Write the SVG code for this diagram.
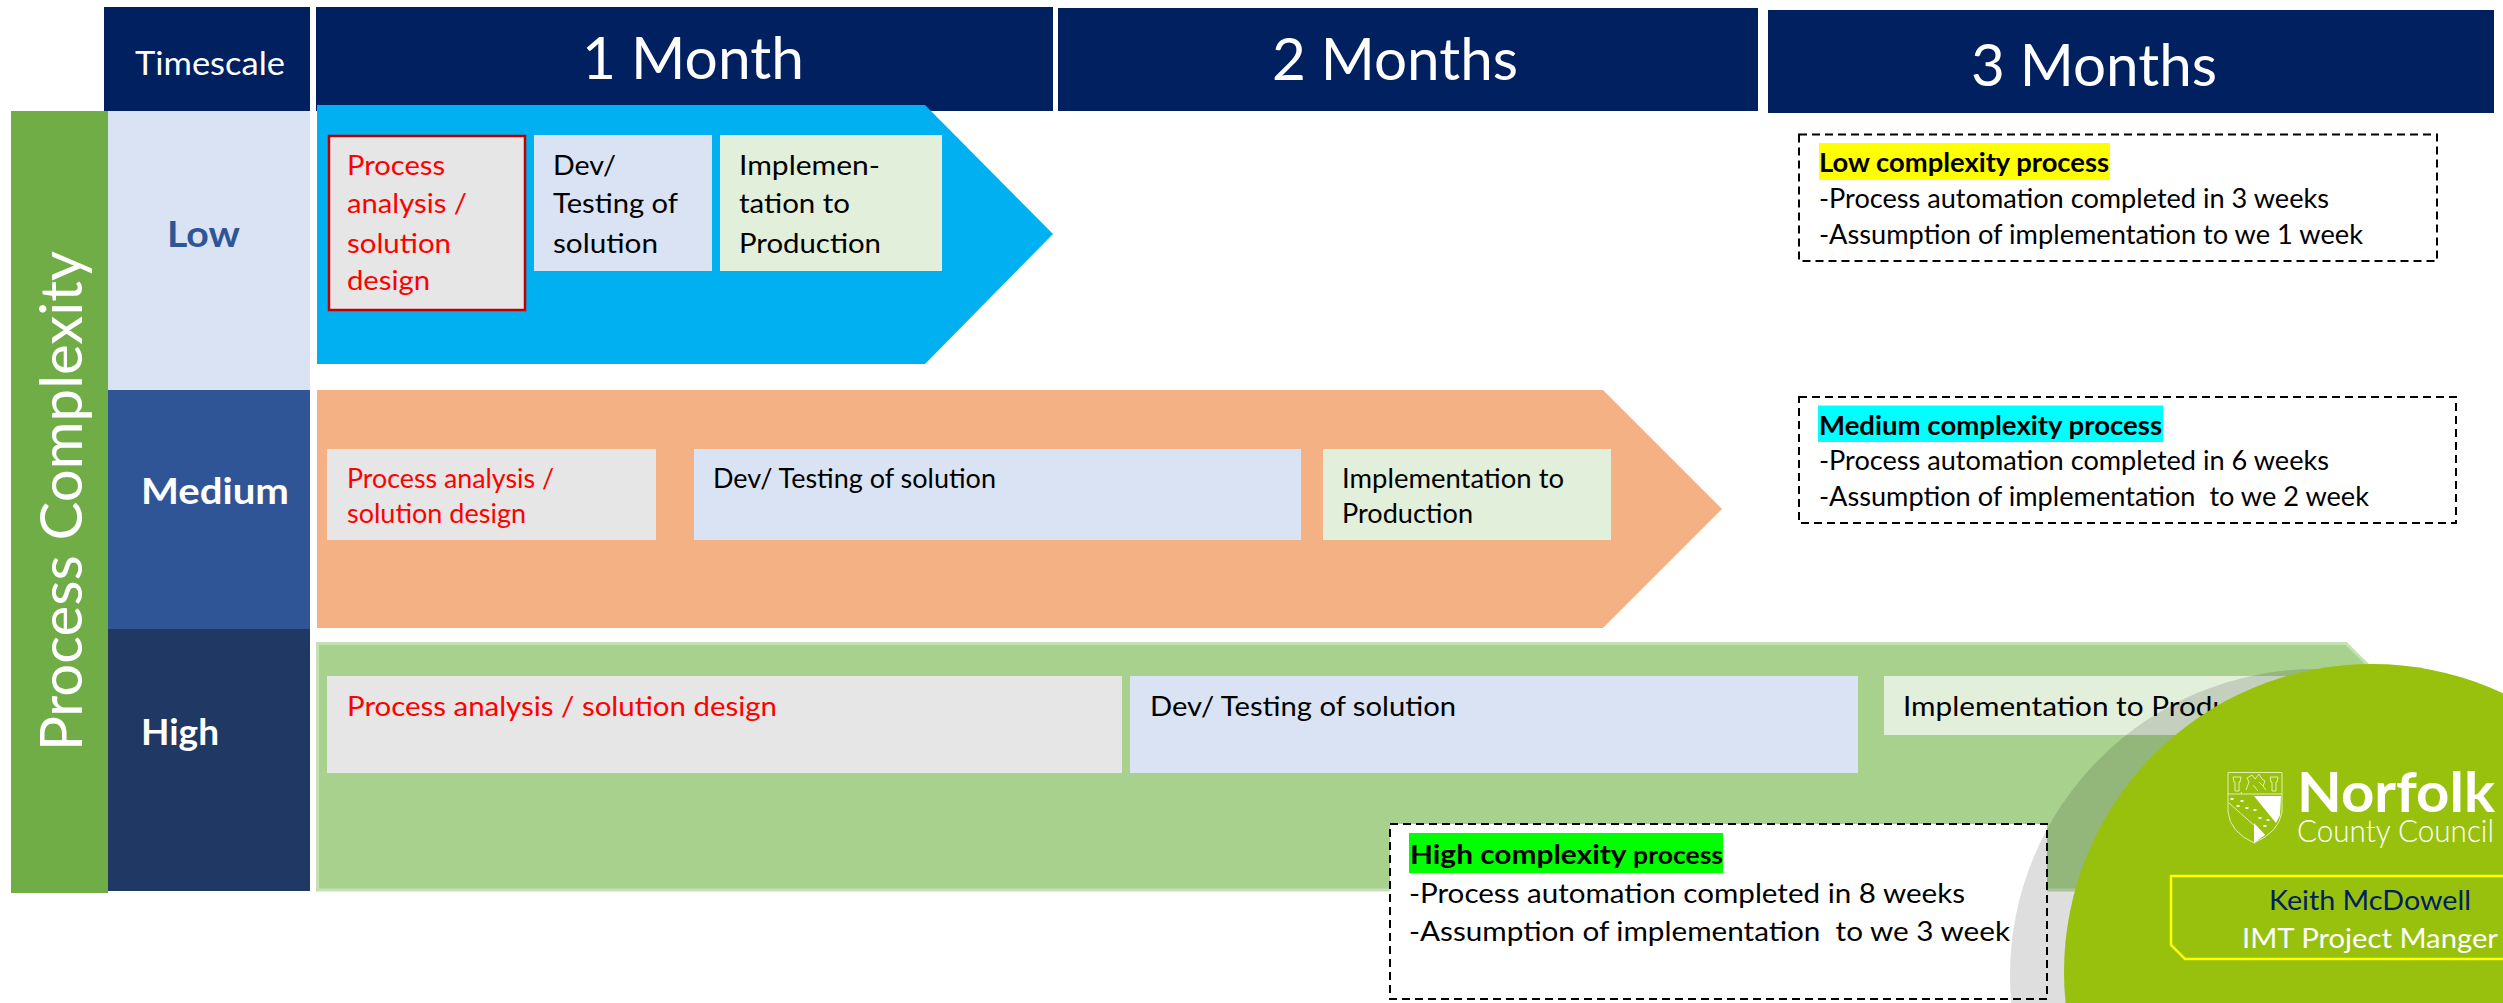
<svg xmlns="http://www.w3.org/2000/svg" width="2503" height="1003" viewBox="0 0 2503 1003">
<style>
text{font-family:"Lato","Liberation Sans",sans-serif;font-size:26px;fill:#000}
.w{fill:#fff}.r{fill:#f00}.b{font-weight:700}
.lg{font-size:27px}
.hd{font-size:58px;fill:#fff}
.lv{font-size:36px;font-weight:700;fill:#fff}
.hdr{fill:#002060}
.gr{fill:#e7e6e6}.bl{fill:#dae3f3}.gn{fill:#e2efda}
.dash{fill:none;stroke:#000;stroke-width:2;stroke-dasharray:8 5}
.crest{fill:none;stroke:#e4efb0;stroke-width:1}
</style>
<rect width="2503" height="1003" fill="#fff"/>
<g id="header-timescale"><rect class="hdr" x="104" y="7" width="206" height="104"/><text class="w" x="135" y="75" style="font-size:32px" textLength="150" lengthAdjust="spacingAndGlyphs">Timescale</text></g>
<g id="header-1-month"><rect class="hdr" x="316" y="7" width="737" height="104"/><text class="hd" x="582" y="79" textLength="222" lengthAdjust="spacingAndGlyphs">1 Month</text></g>
<g id="header-2-months"><rect class="hdr" x="1058" y="8" width="700" height="103"/><text class="hd" x="1272" y="80" textLength="246" lengthAdjust="spacingAndGlyphs">2 Months</text></g>
<g id="header-3-months"><rect class="hdr" x="1768" y="10" width="726" height="103"/><text class="hd" x="1971" y="86" textLength="246" lengthAdjust="spacingAndGlyphs">3 Months</text></g>
<g id="row-low"><rect x="108" y="111" width="202" height="279" fill="#dae3f3"/><text class="lv" style="fill:#2f5597" x="167" y="247" textLength="73" lengthAdjust="spacingAndGlyphs">Low</text></g>
<g id="row-medium"><rect x="108" y="390" width="202" height="239" fill="#2f5597"/><text class="lv" x="141" y="504" textLength="148" lengthAdjust="spacingAndGlyphs">Medium</text></g>
<g id="row-high"><rect x="108" y="629" width="202" height="262" fill="#203864"/><text class="lv" x="141" y="745" textLength="78" lengthAdjust="spacingAndGlyphs">High</text></g>
<g id="process-complexity"><rect x="11" y="111" width="97" height="782" fill="#70ad47"/><text class="w" transform="translate(82 751) rotate(-90)" style="font-size:58px" textLength="500" lengthAdjust="spacingAndGlyphs">Process Complexity</text></g>
<g id="arrow-low"><path d="M317 105H925L1053 234L925 364H317Z" fill="#00b0f0"/>
<rect x="329" y="136" width="196" height="174" fill="#e7e6e6" stroke="#c00000" stroke-width="2.500"/>
<text class="r lg" x="347" y="175" textLength="98" lengthAdjust="spacingAndGlyphs">Process</text><text class="r lg" x="347" y="213" textLength="120" lengthAdjust="spacingAndGlyphs">analysis /</text><text class="r lg" x="347" y="253" textLength="104" lengthAdjust="spacingAndGlyphs">solution</text><text class="r lg" x="347" y="290" textLength="83" lengthAdjust="spacingAndGlyphs">design</text>
<rect class="bl" x="534" y="135" width="178" height="136"/>
<text class="lg" x="553" y="175" textLength="63" lengthAdjust="spacingAndGlyphs">Dev/</text><text class="lg" x="553" y="213" textLength="125" lengthAdjust="spacingAndGlyphs">Testing of</text><text class="lg" x="553" y="253" textLength="105" lengthAdjust="spacingAndGlyphs">solution</text>
<rect class="gn" x="720" y="135" width="222" height="136"/>
<text class="lg" x="739" y="175" textLength="141" lengthAdjust="spacingAndGlyphs">Implemen-</text><text class="lg" x="739" y="213" textLength="111" lengthAdjust="spacingAndGlyphs">tation to</text><text class="lg" x="739" y="253" textLength="142" lengthAdjust="spacingAndGlyphs">Production</text></g>
<g id="arrow-medium"><path d="M317 390H1603L1722 509L1603 628H317Z" fill="#f4b183"/>
<rect class="gr" x="327" y="449" width="329" height="91"/>
<text class="r" x="347" y="488" textLength="207" lengthAdjust="spacingAndGlyphs">Process analysis /</text><text class="r" x="347" y="523" textLength="179" lengthAdjust="spacingAndGlyphs">solution design</text>
<rect class="bl" x="694" y="449" width="607" height="91"/>
<text x="713" y="488" textLength="283" lengthAdjust="spacingAndGlyphs">Dev/ Testing of solution</text>
<rect class="gn" x="1323" y="449" width="288" height="91"/>
<text x="1342" y="487.500" textLength="222" lengthAdjust="spacingAndGlyphs">Implementation to</text><text x="1342" y="522.500" textLength="131" lengthAdjust="spacingAndGlyphs">Production</text></g>
<g id="arrow-high"><path d="M317.500 643.500H2346L2472 767L2346 890H317.500Z" fill="#a9d18e" stroke="#c5e0b4" stroke-width="3"/>
<rect class="gr" x="327" y="676" width="795" height="97"/>
<text class="r lg" x="347" y="716" textLength="430" lengthAdjust="spacingAndGlyphs">Process analysis / solution design</text>
<rect class="bl" x="1130" y="676" width="728" height="97"/>
<text class="lg" x="1150" y="716" textLength="306" lengthAdjust="spacingAndGlyphs">Dev/ Testing of solution</text>
<rect class="gn" x="1884" y="676" width="440" height="59"/>
<text class="lg" x="1903" y="716" textLength="392" lengthAdjust="spacingAndGlyphs">Implementation to Production</text></g>
<g id="note-low"><rect class="dash" x="1799" y="134.500" width="638" height="126.500"/><rect x="1819" y="143" width="291" height="37" fill="#ff0"/>
<text class="b" x="1819" y="172" textLength="290" lengthAdjust="spacingAndGlyphs">Low complexity process</text><text x="1819" y="208" textLength="510" lengthAdjust="spacingAndGlyphs">-Process automation completed in 3 weeks</text><text x="1819" y="244" textLength="544" lengthAdjust="spacingAndGlyphs">-Assumption of implementation to we 1 week</text></g>
<g id="note-medium"><rect class="dash" x="1799" y="397" width="657" height="126"/><rect x="1818" y="405.500" width="345" height="36.500" fill="#0ff"/>
<text class="b" x="1819" y="435" textLength="343" lengthAdjust="spacingAndGlyphs">Medium complexity process</text><text x="1819" y="470" textLength="510" lengthAdjust="spacingAndGlyphs">-Process automation completed in 6 weeks</text><text x="1819" y="506" textLength="550" lengthAdjust="spacingAndGlyphs" xml:space="preserve">-Assumption of implementation  to we 2 week</text></g>
<g id="note-high-back"><rect x="1390" y="824" width="657" height="175" fill="#fff"/></g>
<g id="logo-circle"><circle cx="2316" cy="975" r="306" fill="#000" fill-opacity=".13"/><circle cx="2372" cy="972" r="308" fill="#98c10d"/></g>
<g id="note-high"><rect class="dash" x="1390" y="824" width="657" height="175"/><rect x="1409" y="833" width="314" height="40" fill="#0f0"/>
<text class="b lg" x="1410" y="864" textLength="313" lengthAdjust="spacingAndGlyphs">High complexity <tspan style="font-size:24px">process</tspan></text><text class="lg" x="1409" y="903" textLength="556" lengthAdjust="spacingAndGlyphs">-Process automation completed in 8 weeks</text><text class="lg" x="1409" y="941" textLength="601" lengthAdjust="spacingAndGlyphs" xml:space="preserve">-Assumption of implementation  to we 3 week</text></g>
<g id="norfolk-logo">
<path class="crest" d="M2228 772.500H2282V812Q2279 832 2254 843Q2230 832 2228 812Z"/>
<path class="crest" d="M2228 794H2282M2229 803L2265 835"/>
<path class="crest" d="M2233 777h8l-1 5h-1v9h-4v-9h-1zM2270 777h8l-1 5h-1v9h-4v-9h-1zM2246 790l3-8-2-4 5-3 3 4 4-5 3 5 3 2-2 5 3 4M2253 785l5 6M2242 794l-1-2M2259 782l4 4"/>
<path d="M2254 796H2281L2280 815L2276 823Z" fill="#fff"/>
<path d="M2254 823L2265 835L2254 843Z" fill="#fff"/>
<g fill="#fff"><ellipse cx="2232" cy="799" rx="1.800" ry="1"/><ellipse cx="2242" cy="801" rx="1.800" ry="1"/><ellipse cx="2238" cy="806" rx="1.800" ry="1"/><ellipse cx="2247" cy="808" rx="1.800" ry="1"/><ellipse cx="2255" cy="810" rx="1.800" ry="1"/><ellipse cx="2260" cy="818" rx="1.800" ry="1"/><ellipse cx="2268" cy="820" rx="1.800" ry="1"/><ellipse cx="2265" cy="826" rx="1.800" ry="1"/></g>
<text class="w b" x="2297" y="812" style="font-size:56px" textLength="198" lengthAdjust="spacingAndGlyphs">Norfolk</text>
<text class="w" x="2297" y="842" style="font-size:31px;font-weight:300" textLength="197" lengthAdjust="spacingAndGlyphs">County Council</text></g>
<g id="presenter"><path d="M2503 876H2171V945L2185 959H2503" fill="none" stroke="#ff0" stroke-width="2.500"/>
<text style="fill:#002060;font-size:27px" x="2269" y="910" textLength="202" lengthAdjust="spacingAndGlyphs">Keith McDowell</text>
<text class="w" style="font-size:27px" x="2242" y="948" textLength="256" lengthAdjust="spacingAndGlyphs">IMT Project Manger</text></g>
<g id="connectors"></g>
</svg>
